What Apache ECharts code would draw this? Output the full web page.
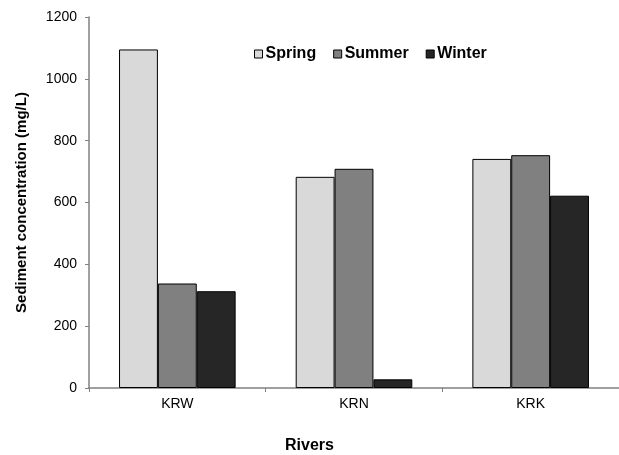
<!DOCTYPE html>
<html>
<head>
<meta charset="utf-8">
<script src="https://cdn.jsdelivr.net/npm/echarts@6/dist/echarts.min.js"></script>
<style>html,body{margin:0;padding:0;background:#fff}#c{width:619px;height:455px}</style>
</head>
<body>
<div id="c"></div>
<script>
const categories = ['KRW', 'KRN', 'KRK'];
const spring = [1095, 683, 741];
const summer = [338, 709, 753];
const winter = [313, 28, 622];
const yTicks = [0, 200, 400, 600, 800, 1000, 1200];

const chart = echarts.init(document.getElementById('c'), null, {renderer: 'canvas'});
const font = 'Arial, "Liberation Sans", sans-serif';
function bar(name, data, color) {
  return {
    name, type: 'bar', data,
    barWidth: '22%', barGap: '0%',
    itemStyle: {color, borderColor: '#000', borderWidth: 1},
    emphasis: {disabled: true}
  };
}
chart.setOption({
  animation: false,
  backgroundColor: '#fff',
  grid: {left: 89, right: 0, top: 17, bottom: 67, containLabel: false},
  legend: {
    top: 41, left: 249,
    itemWidth: 8, itemHeight: 8, itemGap: 17,
    icon: 'rect',
    textStyle: {fontFamily: font, fontSize: 16, fontWeight: 'bold', color: '#000', padding: [0,0,0,-2]},
    data: [
      {name: 'Spring', itemStyle: {borderColor: '#000', borderWidth: 1}},
      {name: 'Summer', itemStyle: {borderColor: '#000', borderWidth: 1}},
      {name: 'Winter', itemStyle: {borderColor: '#000', borderWidth: 1}}
    ]
  },
  xAxis: {
    type: 'category', data: categories,
    axisLine: {lineStyle: {color: '#808080', width: 1.5}},
    axisTick: {show: true, length: 4, alignWithLabel: false, lineStyle: {color: '#808080'}},
    axisLabel: {fontFamily: font, fontSize: 14, color: '#000', margin: 9},
    splitLine: {show: false}
  },
  yAxis: {
    type: 'value', min: yTicks[0], max: yTicks[yTicks.length - 1], interval: 200,
    name: 'Sediment concentration (mg/L)',
    nameLocation: 'middle', nameGap: 60,
    nameTextStyle: {fontFamily: font, fontSize: 15, fontWeight: 'bold', color: '#000'},
    axisLine: {show: true, lineStyle: {color: '#808080', width: 1.5}},
    axisTick: {show: true, length: 4, lineStyle: {color: '#808080'}},
    axisLabel: {fontFamily: font, fontSize: 14, color: '#000', margin: 12, formatter: v => String(v)},
    splitLine: {show: false}
  },
  graphic: [{
    type: 'text', left: 'center', top: 438,
    style: {text: 'Rivers', font: 'bold 16px ' + font, fill: '#000'}
  }],
  series: [
    bar('Spring', spring, '#d9d9d9'),
    bar('Summer', summer, '#808080'),
    bar('Winter', winter, '#262626')
  ]
});
</script>
</body>
</html>
